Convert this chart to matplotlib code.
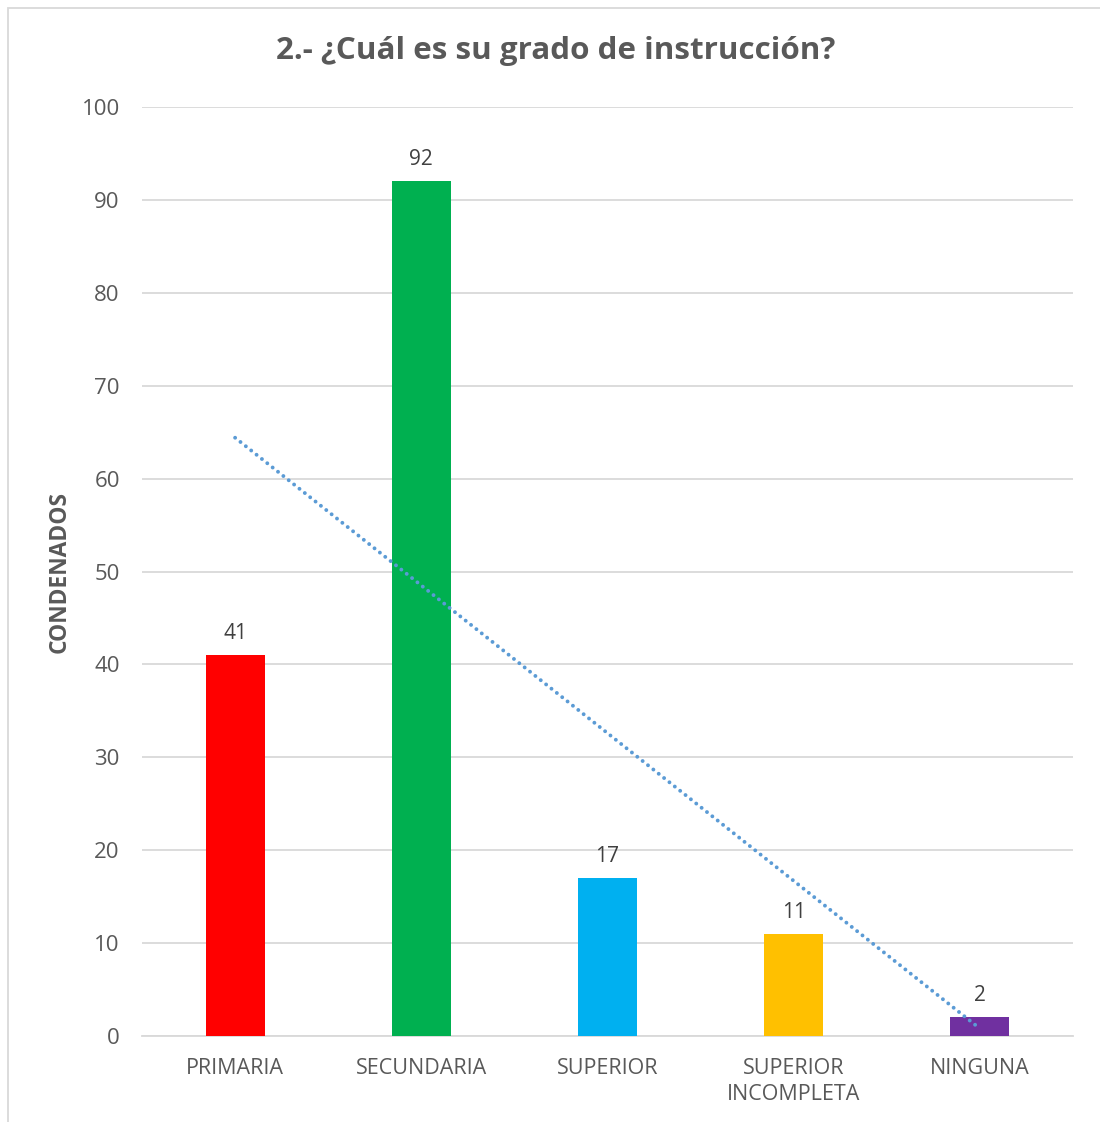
import numpy as np
import matplotlib
matplotlib.use("Agg")
import matplotlib.pyplot as plt
from matplotlib.patches import Rectangle

plt.rcParams['font.family'] = ['Open Sans', 'DejaVu Sans']

categories = ["PRIMARIA", "SECUNDARIA", "SUPERIOR", "SUPERIOR\nINCOMPLETA", "NINGUNA"]
values = [41, 92, 17, 11, 2]
colors = ["#ff0000", "#00b050", "#00b0f0", "#ffc000", "#7030a0"]

fig = plt.figure(figsize=(11, 11.22), dpi=100)
ax = fig.add_axes([142 / 1100, 86 / 1122, 931 / 1100, 929 / 1122])

x = np.arange(len(categories))
bars = ax.bar(x, values, width=0.317, color=colors, zorder=3)

# data labels
for xi, v in zip(x, values):
    ax.annotate(str(v), (xi, v), xytext=(0, 8), textcoords="offset points",
                ha="center", va="bottom", fontsize=15, color="#404040")

# linear trend line
coef = np.polyfit(x, values, 1)
trend = np.polyval(coef, x)
ax.plot(x, trend, linestyle=(0, (0.01, 1.75)), color="#5b9bd5", linewidth=2.8,
        dash_capstyle="round", zorder=4)

ax.set_xlim(-0.5, len(categories) - 0.5)
ax.set_ylim(0, 100)
ax.set_yticks(np.arange(0, 101, 10))
ax.set_xticks(x)
ax.set_xticklabels(categories, linespacing=1.3)
ax.tick_params(axis="y", length=0, pad=16, labelsize=16, labelcolor="#595959")
ax.tick_params(axis="x", length=0, pad=16, labelsize=15.5, labelcolor="#595959")
ax.grid(axis="y", color="#d9d9d9", linewidth=1.3, zorder=0)
for s in ["top", "right", "left"]:
    ax.spines[s].set_visible(False)
ax.spines["bottom"].set_color("#d9d9d9")
ax.spines["bottom"].set_linewidth(1.3)

fig.text(556 / 1100, 1 - 51 / 1122, "2.- ¿Cuál es su grado de instrucción?",
         ha="center", va="center", fontsize=22.6, fontweight="bold", color="#595959")
fig.text(60 / 1100, 1 - 572 / 1122, "CONDENADOS", rotation=90,
         ha="center", va="center", fontsize=16.4, fontweight="bold", color="#595959")

# chart border
fig.patches.append(Rectangle((8 / 1100, -0.1), 1.2, 1 - 8 / 1122 + 0.1,
                             transform=fig.transFigure, fill=False,
                             edgecolor="#d9d9d9", linewidth=1.3))

fig.savefig("out.png", dpi=100, facecolor="white")
